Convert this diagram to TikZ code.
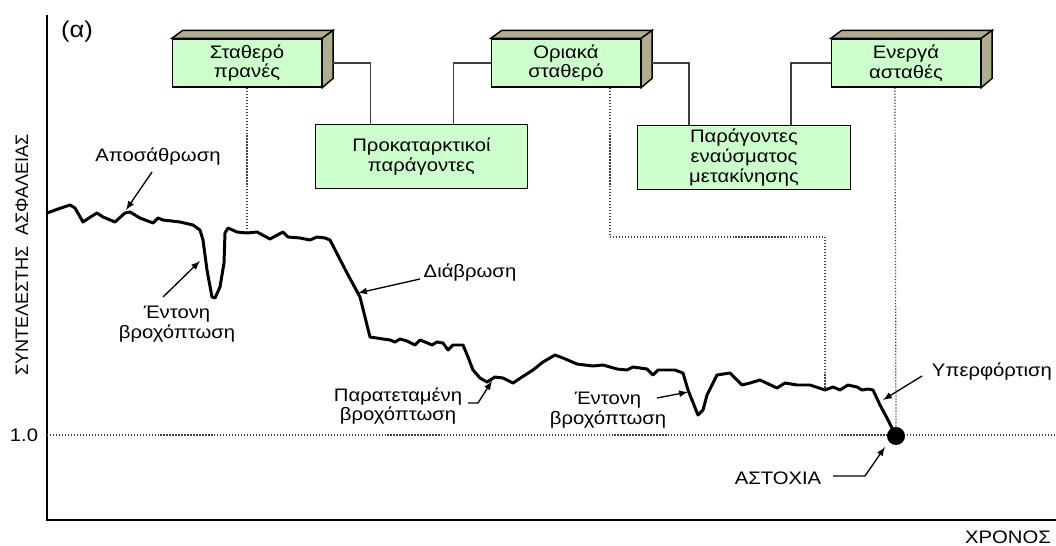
\documentclass[tikz,border=0pt]{standalone}
\usepackage{fontspec}
\setmainfont{Liberation Sans}[FakeStretch=1.12]
\newfontfamily\axisfont{Liberation Sans}
\usetikzlibrary{calc}

\definecolor{boxgreen}{RGB}{204,255,204}
\definecolor{sidegray}{RGB}{176,172,142}
\definecolor{linkgray}{RGB}{64,64,64}

\tikzset{
	box/.style = {draw, fill=boxgreen, line width=0.8pt, align=center, inner sep=0pt},
	stage/.style = {box, minimum width=2.98cm, minimum height=0.96cm},
	factor/.style = {box, minimum width=4.25cm, minimum height=1.28cm},
	link/.style = {draw=linkgray, line width=0.8pt},
	guide/.style = {densely dotted, line width=0.7pt, draw=linkgray},
	callout/.style = {->, line width=0.75pt},
	lbl/.style = {align=center, inner sep=0pt},
	curve/.style = {line width=1.7pt, line join=round, line cap=round}
}

\begin{document}
\begin{tikzpicture}[x=0.02cm, y=-0.02cm, >=latex, font=\fontsize{10.3}{11.3}\selectfont]
			\useasboundingbox (0,0) rectangle (1056,545);
			% axes
			\draw[line width=1.4pt] (47,15) -- (47,520) -- (1056,520);
			\node[lbl, rotate=90] (ylab) at (22,255) {\axisfont ΣΥΝΤΕΛΕΣΤΗΣ\ \ ΑΣΦΑΛΕΙΑΣ};
			\node[lbl] (xlab) at (1008,537) {ΧΡΟΝΟΣ};
			\node[lbl] (one) at (24,435) {1.0};
			\node[lbl, font=\fontsize{13}{15}\selectfont] (part) at (77,32) {(α)};
			\draw[guide] (47,435) -- (1056,435);

			% boxes
			\node[stage] (stath) at (247,63) {Σταθερό\\πρανές};
			\node[stage] (oria) at (566,63) {Οριακά\\σταθερό};
			\node[stage] (energ) at (906,63) {Ενεργά\\ασταθές};
			\node[factor] (prok) at (421.5,156.5) {Προκαταρκτικοί\\παράγοντες};
			\node[factor] (trig) at (744,157.5) {Παράγοντες\\εναύσματος\\μετακίνησης};
			\foreach \n in {stath,oria,energ} {
				\draw[fill=sidegray, line width=0.8pt] (\n.north west) -- ++(11,-8) -- ($(\n.north east)+(11,-8)$) -- (\n.north east) -- cycle;
				\draw[fill=sidegray, line width=0.8pt] (\n.north east) -- ++(11,-8) -- ++(0,48) -- (\n.south east) -- cycle;
			}
			\draw[link] ($(stath.east)+(11,0)$) -| ($(prok.north west)+(56,0)$);
			\draw[link] (oria.west) -| ($(prok.north west)+(139,0)$);
			\draw[link] ($(oria.east)+(11,0)$) -| ($(trig.north west)+(52,0)$);
			\draw[link] (energ.west) -| ($(trig.north west)+(154,0)$);

			% safety factor against time
			\draw[curve] (47,213) -- (58,209) -- (70,205) -- (75,208) -- (83,222) -- (92,216) -- (97,213) -- (103,217)
				-- (115,222) -- (125,213) -- (130,212) -- (140,218) -- (153,223) -- (158,218) -- (163,220) -- (180,222)
				-- (193,225) -- (200,230) -- (203,240) -- (207,270) -- (212,297) -- (215,298) -- (220,287) -- (224,263)
				-- (225,233) -- (228,228) -- (237,232) -- (247,233) -- (257,232) -- (270,239) -- (283,232) -- (288,237)
				-- (300,238) -- (310,240) -- (317,237) -- (325,238) -- (330,240) -- (347,273) -- (360,297) -- (370,337)
				-- (383,339) -- (390,340) -- (395,342) -- (400,339) -- (407,341) -- (415,345) -- (420,340) -- (425,342)
				-- (432,345) -- (437,342) -- (443,343) -- (448,350) -- (453,345) -- (463,345) -- (468,357) -- (473,370)
				-- (480,378) -- (487,382) -- (495,377) -- (503,378) -- (513,383) -- (522,377) -- (533,370) -- (543,362)
				-- (555,355) -- (563,358) -- (577,364) -- (593,366) -- (603,365) -- (617,369) -- (627,370) -- (633,367)
				-- (647,369) -- (653,375) -- (658,370) -- (675,370) -- (683,373) -- (688,390) -- (698,415) -- (703,410)
				-- (707,395) -- (712,385) -- (717,375) -- (730,373) -- (742,385) -- (750,383) -- (760,380) -- (777,388)
				-- (785,383) -- (797,385) -- (810,385) -- (825,390) -- (833,387) -- (840,390) -- (848,385) -- (857,387)
				-- (862,390) -- (868,389) -- (873,390) -- (880,405) -- (887,418) -- (896,436);
			\node[circle, fill, inner sep=0pt, minimum width=0.36cm] (fail) at (896,436) {};

			% dotted guides
			\draw[guide] (stath.south) -- (247,233);
			\draw[guide] ($(oria.south)+(44,0)$) -- (610,237) -- (825,237) -- (825,388);
			\draw[guide] ($(energ.south)+(-11,0)$) -- (fail);

			% labels and arrows
			\node[lbl] (weath) at (158,157) {Αποσάθρωση};
			\node[lbl] (rain1) at (177,324) {Έντονη\\βροχόπτωση};
			\node[lbl] (eros) at (470,273) {Διάβρωση};
			\node[lbl] (rain2) at (398,406) {Παρατεταμένη\\βροχόπτωση};
			\node[lbl] (rain3) at (608,410) {Έντονη\\βροχόπτωση};
			\node[lbl] (load) at (992,372) {Υπερφόρτιση};
			\node[lbl] (failtxt) at (778,478) {ΑΣΤΟΧΙΑ};
			\coordinate (t1) at (126,210);
			\coordinate (t2) at (200,261);
			\coordinate (t3) at (358,293);
			\coordinate (t4) at (492,381);
			\coordinate (t5) at (688,392);
			\coordinate (t6) at (883,400);
			\coordinate (t7) at (885,447);
			\draw[callout] (152,172) -- (t1);
			\draw[callout] (163,297) -- (t2);
			\draw[callout] (420,279) -- (t3);
			\draw[callout] (468,403) -- (478,403) -- (t4);
			\draw[callout] (657,398) -- (t5);
			\draw[callout] (922,376) -- (t6);
			\draw[callout] (833,476) -- (865,476) -- (t7);
		\end{tikzpicture}
\end{document}
